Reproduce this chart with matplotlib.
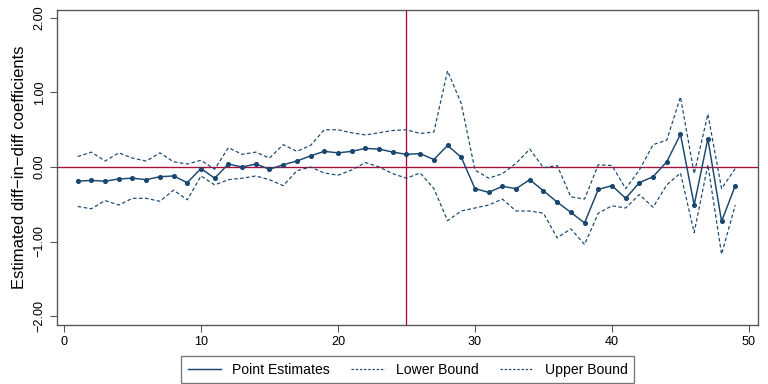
import matplotlib
matplotlib.use("Agg")
import matplotlib.pyplot as plt
from matplotlib.lines import Line2D

plt.rcParams['font.family'] = ['Liberation Sans', 'DejaVu Sans']

periods = list(range(1, 50))
point_est = [-0.19, -0.18, -0.19, -0.16, -0.15, -0.17, -0.13, -0.12, -0.21, -0.02,
             -0.15, 0.04, 0.00, 0.04, -0.03, 0.03, 0.08, 0.15, 0.21, 0.19,
             0.21, 0.25, 0.24, 0.20, 0.17, 0.18, 0.10, 0.29, 0.13, -0.29,
             -0.34, -0.26, -0.29, -0.17, -0.32, -0.47, -0.61, -0.75, -0.30, -0.25,
             -0.42, -0.21, -0.13, 0.07, 0.44, -0.51, 0.38, -0.73, -0.25]
lower = [-0.53, -0.56, -0.45, -0.51, -0.42, -0.42, -0.46, -0.31, -0.44, -0.12,
         -0.24, -0.17, -0.15, -0.12, -0.17, -0.25, -0.05, 0.00, -0.08, -0.11,
         -0.04, 0.06, 0.00, -0.09, -0.15, -0.08, -0.29, -0.72, -0.59, -0.55,
         -0.51, -0.43, -0.59, -0.59, -0.62, -0.95, -0.83, -1.04, -0.62, -0.52,
         -0.55, -0.37, -0.54, -0.24, -0.08, -0.88, 0.03, -1.17, -0.51]
upper = [0.14, 0.20, 0.08, 0.19, 0.12, 0.08, 0.19, 0.07, 0.04, 0.09,
         -0.03, 0.26, 0.17, 0.20, 0.12, 0.30, 0.21, 0.29, 0.50, 0.50,
         0.46, 0.43, 0.46, 0.49, 0.50, 0.45, 0.47, 1.29, 0.85, -0.04,
         -0.15, -0.09, 0.05, 0.24, -0.01, 0.02, -0.40, -0.43, 0.03, 0.02,
         -0.29, -0.04, 0.30, 0.36, 0.94, -0.09, 0.71, -0.29, -0.02]
event_period = 25
xticks = [0, 10, 20, 30, 40, 50]
yticks = [-2, -1, 0, 1, 2]
ytick_labels = ['\u22122.00', '\u22121.00', '0.00', '1.00', '2.00']
series_names = ['Point Estimates', 'Lower Bound', 'Upper Bound']

navy = '#1a476f'
red = '#a50f3a'
grey = '#555555'
dash = (0, (3, 2))

fig = plt.figure(figsize=(8, 4), dpi=96)
ax = fig.add_axes([0.0742, 0.1536, 0.9128, 0.8204])

ax.axhline(0, color=red, lw=1.0, zorder=1)
ax.axvline(event_period, color=red, lw=1.0, zorder=1)

ax.plot(periods, point_est, color=navy, lw=1.1, marker='o', ms=2.8, zorder=3)
ax.plot(periods, lower, color=navy, lw=0.9, ls=dash, zorder=2)
ax.plot(periods, upper, color=navy, lw=0.9, ls=dash, zorder=2)

ax.set_xlim(-0.51, 50.66)
ax.set_ylim(-2.12, 2.107)
ax.set_xticks(xticks)
ax.set_yticks(yticks)
ax.set_yticklabels(ytick_labels, rotation=90, va='center')
ax.tick_params(axis='both', direction='out', length=5, width=0.8,
               color=grey, labelsize=9.5, labelcolor='black')
for s in ax.spines.values():
    s.set_color(grey)
    s.set_linewidth(1.0)

ax.set_ylabel('Estimated diff\u2212in\u2212diff coefficients', fontsize=12.5, labelpad=5)

handles = [Line2D([], [], color=navy, lw=1.1),
           Line2D([], [], color=navy, lw=0.9, ls=(0, (2, 1.5))),
           Line2D([], [], color=navy, lw=0.9, ls=(0, (2, 1.5)))]
leg = ax.legend(handles, series_names, loc='upper center',
                bbox_to_anchor=(0.5, -0.077), ncol=3,
                frameon=True, fancybox=False, fontsize=10.5, handlelength=2.4,
                columnspacing=1.5, borderpad=0.45, handletextpad=0.8)
leg.get_frame().set_edgecolor(grey)
leg.get_frame().set_linewidth(1.0)

fig.savefig('out.png', dpi=96)
